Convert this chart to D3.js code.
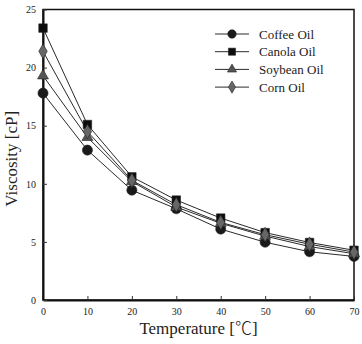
<!DOCTYPE html>
<html lang="en">
<head>
    <meta charset="UTF-8">
    <title>Viscosity vs Temperature</title>
    <script src="https://d3js.org/d3.v7.min.js"></script>
    <style>
        body { margin: 0; background: #fff; }
        text { font-family: "Liberation Serif", "DejaVu Serif", serif; fill: #222; }
    </style>
</head>
<body>
</body>
<script>
    const WIDTH = 362, HEIGHT = 344;
    const margin = {left: 43, right: 8, top: 9.5, bottom: 44};

    const temps = [0, 10, 20, 30, 40, 50, 60, 70];
    const coffee = [17.8, 12.9, 9.45, 7.85, 6.1, 4.97, 4.15, 3.75];
    const canola = [23.4, 15.1, 10.6, 8.6, 7.05, 5.8, 4.95, 4.28];
    const soybean = [19.3, 14.0, 10.2, 8.0, 6.6, 5.5, 4.6, 3.98];
    const corn = [21.4, 14.5, 10.3, 8.2, 6.68, 5.62, 4.8, 4.12];
    const xTicks = [0, 10, 20, 30, 40, 50, 60, 70];
    const yTicks = [0, 5, 10, 15, 20, 25];

    const series = [
        {name: "Coffee Oil", values: coffee, shape: d3.symbolCircle, size: 80, fill: "#1a1a1a"},
        {name: "Canola Oil", values: canola, shape: d3.symbolSquare, size: 72, fill: "#0d0d0d"},
        {name: "Soybean Oil", values: soybean, shape: d3.symbolTriangle, size: 52, fill: "#555"},
        {name: "Corn Oil", values: corn, shape: d3.symbolDiamond, size: 62, fill: "#666"}
    ];

    let svg = d3.select("body").append("svg").attr("width", WIDTH).attr("height", HEIGHT);

    let x = d3.scaleLinear().domain([0, 70]).range([margin.left, WIDTH - margin.right]);
    let y = d3.scaleLinear().domain([0, 25]).range([HEIGHT - margin.bottom, margin.top]);

    // frame
    svg.append("rect")
        .attr("x", x(0)).attr("y", y(25))
        .attr("width", x(70) - x(0)).attr("height", y(0) - y(25))
        .attr("fill", "none").attr("stroke", "#111").attr("stroke-width", 1.5);

    // axes, inward ticks
    let xAxis = svg.append("g").attr("transform", `translate(0,${y(0)})`)
        .call(d3.axisBottom(x).tickValues(xTicks).tickSizeInner(-4).tickSizeOuter(0).tickPadding(8));
    let yAxis = svg.append("g").attr("transform", `translate(${x(0)},0)`)
        .call(d3.axisLeft(y).tickValues(yTicks).tickSizeInner(-4).tickSizeOuter(0).tickPadding(7));
    [xAxis, yAxis].forEach(a => {
        a.select(".domain").attr("stroke", "#111").attr("stroke-width", 2);
        a.selectAll(".tick line").attr("stroke", "#333");
        a.selectAll(".tick text").style("font-size", "10px").attr("fill", "#444");
    });

    // lines
    let line = d3.line().x((d, i) => x(temps[i])).y(d => y(d));
    series.forEach(s => {
        svg.append("path").datum(s.values).attr("d", line)
            .attr("fill", "none").attr("stroke", "#2a2a2a").attr("stroke-width", 1);
    });
    series.forEach(s => {
        svg.append("g").selectAll("path").data(s.values).join("path")
            .attr("d", d3.symbol().type(s.shape).size(s.size))
            .attr("transform", (d, i) => `translate(${x(temps[i])},${y(d)})`)
            .attr("fill", s.fill).attr("stroke", "#222").attr("stroke-width", 0.6);
    });

    // legend
    let legend = svg.append("g");
    series.forEach((s, i) => {
        let ly = 34 + i * 17.7;
        legend.append("line").attr("x1", 215).attr("x2", 249).attr("y1", ly).attr("y2", ly)
            .attr("stroke", "#2a2a2a").attr("stroke-width", 1);
        legend.append("path").attr("d", d3.symbol().type(s.shape).size(s.size * 0.7))
            .attr("transform", `translate(232,${ly})`)
            .attr("fill", s.fill).attr("stroke", "#222").attr("stroke-width", 0.6);
        legend.append("text").attr("x", 259).attr("y", ly + 4.5)
            .style("font-size", "13px").text(s.name);
    });

    // axis titles
    let xt = svg.append("text").attr("x", (x(0) + x(70)) / 2).attr("y", 334)
        .attr("text-anchor", "middle").style("font-size", "17px");
    xt.append("tspan").text("Temperature [");
    xt.append("tspan").style("font-family", "'Noto Sans CJK JP'").style("font-weight", 300).text("℃");
    xt.append("tspan").text("]");
    svg.append("text").attr("transform", `translate(17,${(y(0) + y(25)) / 2 + 4}) rotate(-90)`)
        .attr("text-anchor", "middle").style("font-size", "17px").text("Viscosity [cP]");
</script>
</html>
